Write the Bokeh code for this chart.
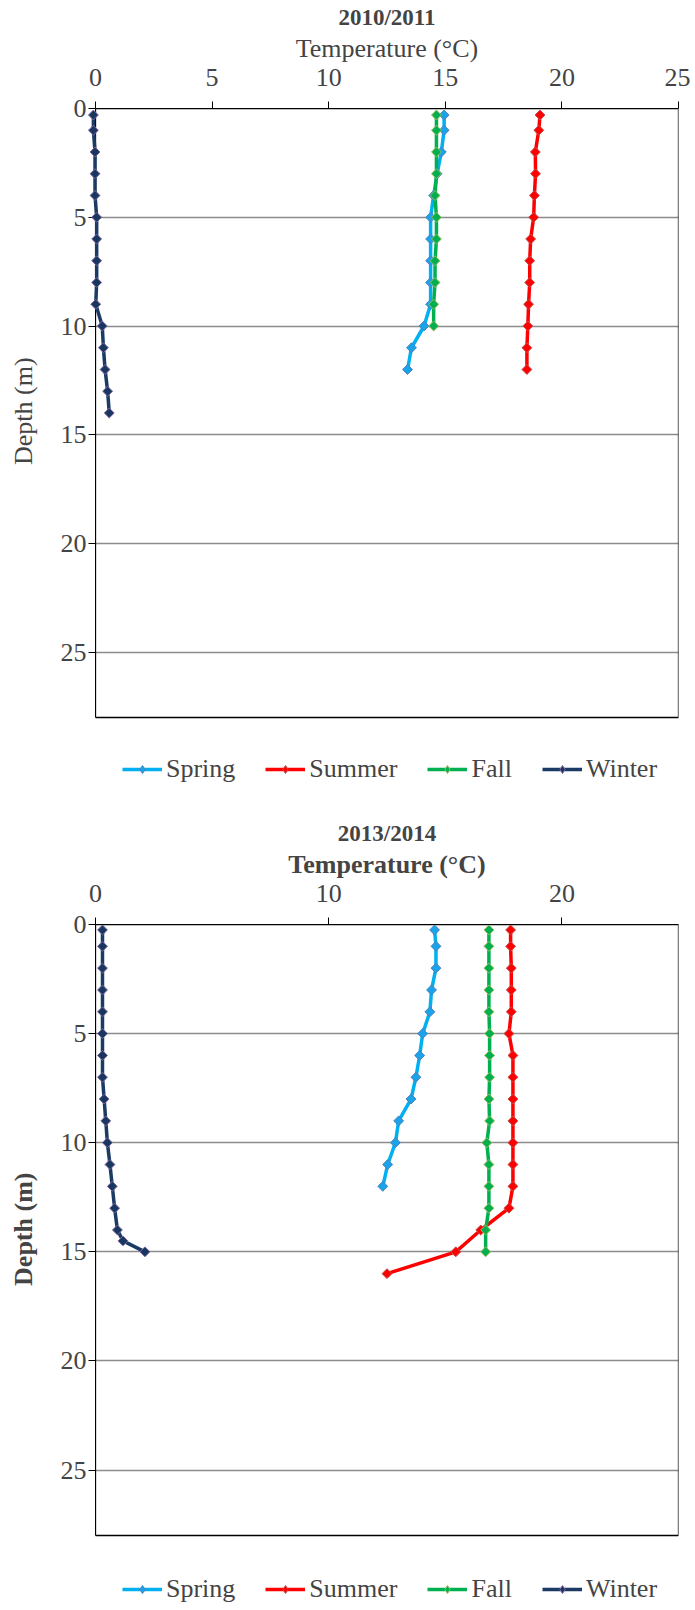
from bokeh.plotting import figure
from bokeh.models import Range1d, FixedTicker, Legend, LegendItem, BoxAnnotation
from bokeh.layouts import column
from bokeh.embed import file_html
from bokeh.resources import INLINE
import numpy as np

FONT = "Liberation Serif"
SEASONS = ["Spring", "Summer", "Fall", "Winter"]

# ---- 2010/2011 ----
title_1 = "2010/2011"
ticks_1 = [0, 5, 10, 15, 20, 25]
depth_spring_1 = [0.3, 1, 2, 3, 4, 5, 6, 7, 8, 9, 10, 11, 12]
spring_1 = [14.95, 14.95, 14.83, 14.65, 14.5, 14.37, 14.37, 14.37, 14.37, 14.37, 14.09, 13.55, 13.38]
depth_summer_1 = [0.3, 1, 2, 3, 4, 5, 6, 7, 8, 9, 10, 11, 12]
summer_1 = [19.06, 19.01, 18.86, 18.87, 18.82, 18.79, 18.66, 18.62, 18.62, 18.57, 18.54, 18.50, 18.50]
depth_fall_1 = [0.3, 1, 2, 3, 4, 5, 6, 7, 8, 9, 10]
fall_1 = [14.62, 14.62, 14.62, 14.62, 14.56, 14.62, 14.62, 14.56, 14.56, 14.5, 14.5]
depth_winter_1 = [0.3, 1, 2, 3, 4, 5, 6, 7, 8, 9, 10, 11, 12, 13, 14]
winter_1 = [-0.09, -0.09, -0.02, -0.02, -0.02, 0.05, 0.05, 0.05, 0.05, 0.01, 0.29, 0.34, 0.41, 0.52, 0.59]

# ---- 2013/2014 ----
title_2 = "2013/2014"
ticks_2 = [0, 10, 20]
depth_spring_2 = [0.25, 1, 2, 3, 4, 5, 6, 7, 8, 9, 10, 11, 12]
spring_2 = [14.54, 14.60, 14.60, 14.41, 14.34, 14.03, 13.90, 13.74, 13.53, 13.00, 12.86, 12.53, 12.32]
depth_summer_2 = [0.25, 1, 2, 3, 4, 5, 6, 7, 8, 9, 10, 11, 12, 13, 14, 15, 16]
summer_2 = [17.80, 17.80, 17.83, 17.83, 17.83, 17.73, 17.90, 17.90, 17.90, 17.90, 17.90, 17.90, 17.90, 17.73, 16.52, 15.45, 12.5]
depth_fall_2 = [0.25, 1, 2, 3, 4, 5, 6, 7, 8, 9, 10, 11, 12, 13, 14, 15]
fall_2 = [16.87, 16.87, 16.87, 16.87, 16.87, 16.9, 16.9, 16.9, 16.87, 16.9, 16.78, 16.87, 16.87, 16.87, 16.73, 16.73]
depth_winter_2 = [0.25, 1, 2, 3, 4, 5, 6, 7, 8, 9, 10, 11, 12, 13, 14, 14.5, 15]
winter_2 = [0.3, 0.3, 0.3, 0.3, 0.3, 0.3, 0.3, 0.3, 0.37, 0.44, 0.51, 0.62, 0.72, 0.82, 0.94, 1.18, 2.12]

depth_ticks = [0, 5, 10, 15, 20, 25]
T_MIN, T_MAX = 0, 25
D_MAX = 28

LINE_COLORS = ["#00B0F0", "#FF0000", "#00B050", "#1B3A64"]
FILL_COLORS = ["#1AA3E8", "#FF0000", "#00B050", "#17375E"]
EDGE_COLORS = ["#4F81BD", "#C0504D", "#9BBB59", "#8064A2"]

NBSP = "\u00a0"


def make(title, ticks, bold, series, min_top, plot_h, legend_px, min_bottom):
    # the frame is extended below the chart box so the legend can sit under it
    px_per_m = plot_h / D_MAX
    d_end = D_MAX + legend_px / px_per_m
    p = figure(frame_width=583, frame_height=plot_h + legend_px,
               min_border_left=95, min_border_right=12,
               min_border_top=min_top, min_border_bottom=min_bottom,
               x_range=Range1d(T_MIN, T_MAX), y_range=Range1d(d_end, 0),
               x_axis_location="above", output_backend="svg",
               toolbar_location=None, tools="")
    style = "bold" if bold else "normal"
    p.title.text = title
    p.title.align = "center"
    p.title.text_font = FONT
    p.title.text_font_size = "23px"
    p.title.text_font_style = "bold"
    p.title.standoff = 1
    p.title.offset = 0

    xa = p.xaxis[0]
    xa.ticker = FixedTicker(ticks=ticks)
    xa.axis_label = "Temperature (°C)"
    xa.axis_label_text_font = FONT
    xa.axis_label_text_font_size = "26px"
    xa.axis_label_text_font_style = style
    xa.axis_label_standoff = 3
    xa.major_label_text_font = FONT
    xa.major_label_text_font_size = "26px"
    xa.major_label_standoff = 16
    xa.major_tick_out = 7
    xa.major_tick_in = 0
    xa.minor_tick_out = 0
    xa.minor_tick_in = 0
    xa.axis_line_color = "black"
    xa.major_tick_line_color = "black"

    ya = p.yaxis[0]
    ya.ticker = FixedTicker(ticks=depth_ticks)
    ya.bounds = (0, D_MAX)
    # leading no-break spaces shift the centred label up to the chart box centre
    ya.axis_label = NBSP * 11 + "Depth (m)"
    ya.axis_label_text_font = FONT
    ya.axis_label_text_font_size = "26px"
    ya.axis_label_text_font_style = style
    ya.axis_label_standoff = 20
    ya.major_label_text_font = FONT
    ya.major_label_text_font_size = "26px"
    ya.major_label_standoff = 2
    ya.major_tick_out = 7
    ya.major_tick_in = 0
    ya.minor_tick_out = 0
    ya.minor_tick_in = 0
    ya.axis_line_color = "black"
    ya.major_tick_line_color = "black"

    p.xgrid.visible = False
    p.ygrid.ticker = FixedTicker(ticks=depth_ticks[1:])
    p.ygrid.grid_line_color = "#8C8C8C"
    p.ygrid.grid_line_width = 1.3
    p.outline_line_color = None
    p.background_fill_color = "white"
    p.border_fill_color = "white"

    # chart box (0..25 °C, 0..28 m)
    box = BoxAnnotation(left=T_MIN, right=T_MAX, top=0, bottom=D_MAX,
                        fill_alpha=0, fill_color=None,
                        line_color="black", line_width=1.3, line_alpha=1.0)
    p.add_layout(box)

    items = []
    for name, (d, t), lc, fc, ec in zip(SEASONS, series, LINE_COLORS, FILL_COLORS, EDGE_COLORS):
        l = p.line(t, d, line_color=lc, line_width=3.5)
        s = p.scatter(t, d, marker="square", angle=np.pi / 4, size=7,
                      fill_color=fc, line_color=ec, line_width=1)
        # hidden diamond renderer used only for the legend symbol
        lg = p.scatter(t, d, marker="diamond", size=11,
                       fill_color=fc, line_color=ec, line_width=1, visible=False)
        l.level = "overlay"
        s.level = "overlay"
        items.append(LegendItem(label=name, renderers=[l, lg]))

    legend = Legend(items=items, orientation="horizontal", location=(27, 1),
                    glyph_width=40, glyph_height=20, label_standoff=4, spacing=30,
                    padding=0, margin=0, border_line_color=None, background_fill_alpha=0,
                    inactive_fill_alpha=0,
                    label_text_font=FONT, label_text_font_size="26px")
    p.add_layout(legend)
    return p


p1 = make(title_1, ticks_1, False,
          [(depth_spring_1, spring_1), (depth_summer_1, summer_1),
           (depth_fall_1, fall_1), (depth_winter_1, winter_1)],
          108, 609, 68, 15)
p2 = make(title_2, ticks_2, True,
          [(depth_spring_2, spring_2), (depth_summer_2, summer_2),
           (depth_fall_2, fall_2), (depth_winter_2, winter_2)],
          124, 611, 70, 2)

layout = column(p1, p2, spacing=0)
open("out.html", "w").write(file_html(layout, INLINE))
